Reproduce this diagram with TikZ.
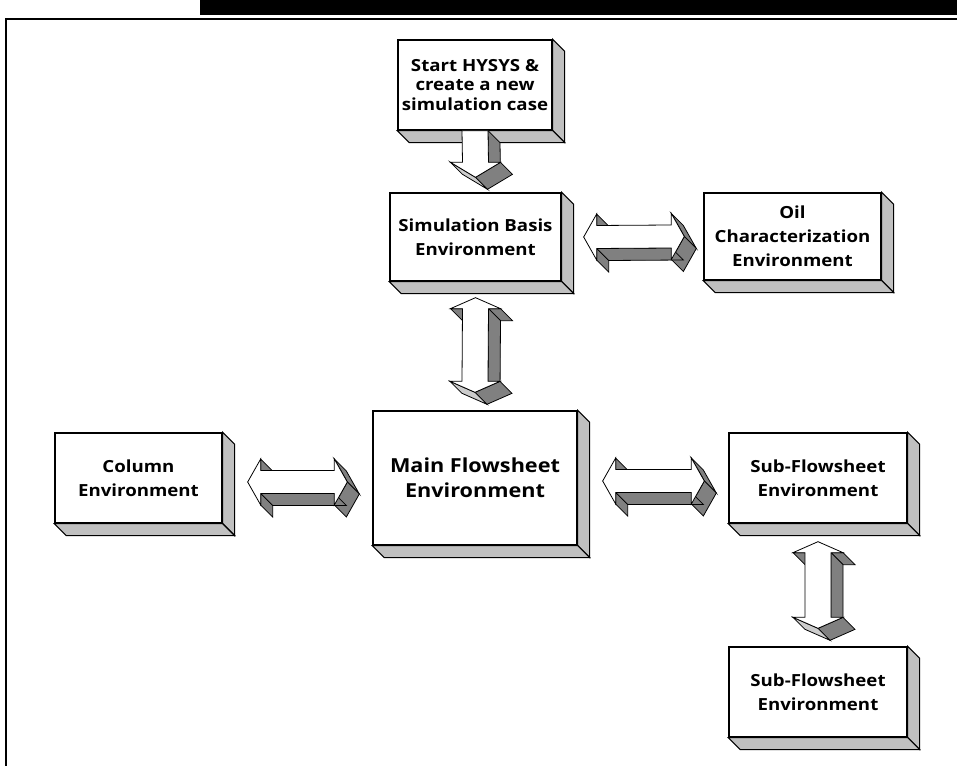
\documentclass[tikz,border=0pt]{standalone}
\usepackage{fontspec}
\setmainfont{Open Sans}[FakeStretch=1.12]
\usetikzlibrary{calc}
\definecolor{sidegray}{RGB}{192,192,192}
\definecolor{darkface}{RGB}{128,128,128}
\definecolor{lightface}{RGB}{204,204,204}

% one side face of an extruded arrow: front edge p#2--p#3 and its back copy
\newcommand\ArrFace[3][arrowdark]{\draw[#1] (p#2) -- (p#3) -- (q#3) -- (q#2) -- cycle;}
\newcommand\BackCopy[1]{\foreach \i in {1,...,#1} {\coordinate (q\i) at ($(p\i)+(12,12)$);}}

% box with a raised right and bottom face
\newcommand\EnvBox[7][]{%
  \node[envbox, #1, minimum width={(#5-#3)*0.75pt}, minimum height={(#6-#4)*0.75pt}]
    (#2) at ({(#3+#5)/2},{(#4+#6)/2}) {#7};
  \draw[boxside] (#2.north east) -- ++(12,12) -- ($(#2.south east)+(12,12)$) -- (#2.south east) -- cycle;
  \draw[boxside] (#2.south west) -- ++(12,12) -- ($(#2.south east)+(12,12)$) -- (#2.south east) -- cycle;
}

% horizontal two-headed block arrow between two tip coordinates
\newcommand\HArrow[2]{%
  \coordinate (p1) at (#1);
  \coordinate (p2) at ($(#1)+(13,-23)$);
  \coordinate (p3) at ($(#1)+(13,-11.5)$);
  \coordinate (p4) at ($(#2)+(-13,-11.5)$);
  \coordinate (p5) at ($(#2)+(-13,-23)$);
  \coordinate (p6) at (#2);
  \coordinate (p7) at ($(#2)+(-13,23)$);
  \coordinate (p8) at ($(#2)+(-13,11.5)$);
  \coordinate (p9) at ($(#1)+(13,11.5)$);
  \coordinate (p10) at ($(#1)+(13,23)$);
  \BackCopy{10}
  \ArrFace{2}{3}\ArrFace{5}{6}\ArrFace{6}{7}\ArrFace{8}{9}\ArrFace{9}{10}
  \draw[arrowfront] (p1) -- (p2) -- (p3) -- (p4) -- (p5) -- (p6) -- (p7) -- (p8) -- (p9) -- (p10) -- cycle;
}

% vertical two-headed block arrow between two tip coordinates
\newcommand\VArrow[2]{%
  \coordinate (p1) at (#1);
  \coordinate (p2) at ($(#1)+(25,11)$);
  \coordinate (p3) at ($(#1)+(13,11)$);
  \coordinate (p4) at ($(#2)+(13,-11)$);
  \coordinate (p5) at ($(#2)+(25,-11)$);
  \coordinate (p6) at (#2);
  \coordinate (p7) at ($(#2)+(-25,-11)$);
  \coordinate (p8) at ($(#2)+(-13,-11)$);
  \coordinate (p9) at ($(#1)+(-13,11)$);
  \coordinate (p10) at ($(#1)+(-25,11)$);
  \BackCopy{10}
  \ArrFace{2}{3}\ArrFace{3}{4}\ArrFace{5}{6}\ArrFace[arrowlight]{6}{7}\ArrFace{9}{10}
  \draw[arrowfront] (p1) -- (p2) -- (p3) -- (p4) -- (p5) -- (p6) -- (p7) -- (p8) -- (p9) -- (p10) -- cycle;
}

% single downward block arrow from a shaft top to a tip
\newcommand\DownArrow[2]{%
  \coordinate (p1) at ($(#1)+(-13,0)$);
  \coordinate (p2) at ($(#1)+(13,0)$);
  \coordinate (p3) at ($(#2)+(13,-15)$);
  \coordinate (p4) at ($(#2)+(25,-15)$);
  \coordinate (p5) at (#2);
  \coordinate (p6) at ($(#2)+(-25,-15)$);
  \coordinate (p7) at ($(#2)+(-13,-15)$);
  \BackCopy{7}
  \ArrFace{2}{3}\ArrFace{4}{5}\ArrFace[arrowlight]{5}{6}
  \draw[arrowfront] (p1) -- (p2) -- (p3) -- (p4) -- (p5) -- (p6) -- (p7) -- cycle;
}

\begin{document}
\begin{tikzpicture}[x=0.75pt,y=-0.75pt,
  envbox/.style={draw=black, line width=1pt, fill=white, align=center, inner sep=0pt,
    font=\bfseries\fontsize{12.5}{18}\selectfont},
  tighttext/.style={font=\bfseries\fontsize{12.5}{14.3}\selectfont},
  bigtext/.style={font=\bfseries\fontsize{14.5}{19}\selectfont},
  boxside/.style={draw=black, line width=0.8pt, fill=sidegray, line join=miter},
  arrowfront/.style={draw=black, line width=0.6pt, fill=white, line join=miter},
  arrowdark/.style={draw=black, line width=0.6pt, fill=darkface, line join=miter},
  arrowlight/.style={draw=black, line width=0.6pt, fill=lightface, line join=miter},
  frameline/.style={draw=black, line width=2.2pt, line join=miter}
]
\useasboundingbox (0,0) rectangle (957,766);

% page header bar and frame
\fill[black] (200,0) rectangle (957,15);
\draw[frameline] (6,766) -- (6,19) -- (957,19);

% environments
\EnvBox[tighttext]{start}{398}{40}{552}{130}{Start HYSYS \&\\create a new\\simulation case}
\EnvBox{sb}{390}{193}{561}{281}{Simulation Basis\\Environment}
\EnvBox{oil}{704}{193}{881}{280}{Oil\\Characterization\\Environment}
\EnvBox{col}{55}{433}{222}{523}{Column\\Environment}
\EnvBox[bigtext]{main}{373}{411}{577}{545}{Main Flowsheet\\Environment}
\EnvBox{sub1}{729}{433}{907}{523}{Sub-Flowsheet\\Environment}
\EnvBox{sub2}{729}{647}{907}{737}{Sub-Flowsheet\\Environment}

% block arrows between the environments
\DownArrow{start.south}{$(sb.north)+(0,-15)$}
\HArrow{$(sb.east)+(22,0)$}{$(oil.west)+(-19,0)$}
\VArrow{$(sb.south)+(0,16)$}{$(main.north)+(0,-18)$}
\HArrow{$(col.east)+(25,4)$}{$(main.west)+(-25,4)$}
\HArrow{$(main.east)+(25,3)$}{$(sub1.west)+(-24,3)$}
\VArrow{$(sub1.south)+(0,18)$}{$(sub2.north)+(0,-18)$}
\end{tikzpicture}
\end{document}
